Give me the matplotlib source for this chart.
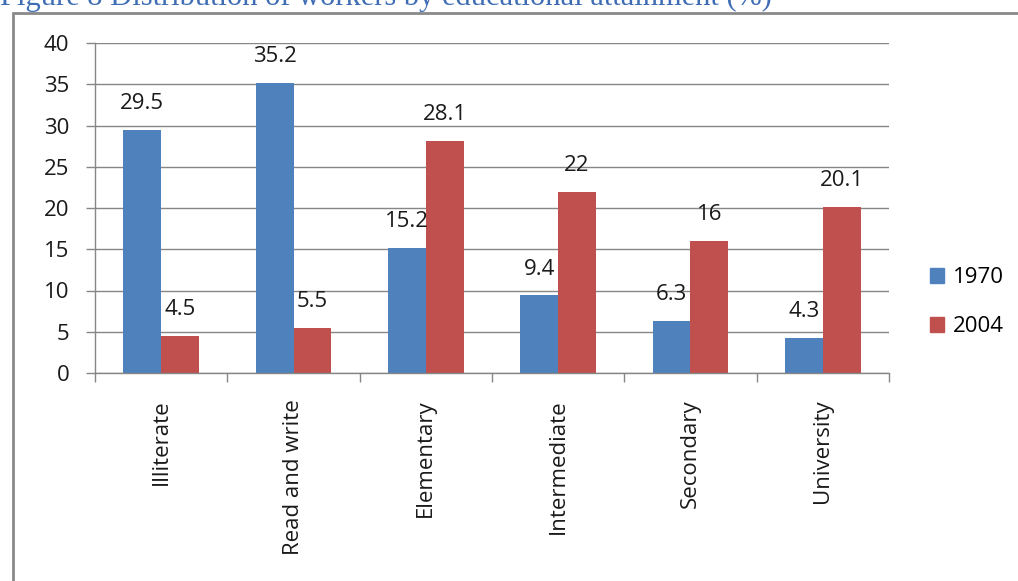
import numpy as np
import matplotlib.pyplot as plt
from matplotlib.patches import Patch, Rectangle

# Workers by educational attainment (%)
categories = ['Illiterate', 'Read and write', 'Elementary', 'Intermediate', 'Secondary', 'University']
share_1970 = [29.5, 35.2, 15.2, 9.4, 6.3, 4.3]
share_2004 = [4.5, 5.5, 28.1, 22, 16, 20.1]
years = ['1970', '2004']

blue = '#4F81BD'
red = '#C0504D'
grid_col = '#868686'
fs = 16

plt.rcParams['font.family'] = ['Open Sans', 'DejaVu Sans']

fig = plt.figure(figsize=(10.18, 5.81), dpi=100)
ax = fig.add_axes([95 / 1018, 1 - 373 / 581, (889 - 95) / 1018, (373 - 43) / 581])

x = np.arange(len(categories))
w = 1 / 3.5
b1 = ax.bar(x - w / 2, share_1970, w, color=blue)
b2 = ax.bar(x + w / 2, share_2004, w, color=red)

# value labels above each bar
for bars, vals in [(b1, share_1970), (b2, share_2004)]:
    for rect, v in zip(bars, vals):
        ax.annotate(f'{v:g}', (rect.get_x() + rect.get_width() / 2, v),
                    xytext=(0, 19), textcoords='offset points',
                    ha='center', va='center', fontsize=fs, color='#1a1a1a')

ax.set_xlim(-0.5, len(categories) - 0.5)
ax.set_ylim(0, 40)
ax.set_yticks(np.arange(0, 41, 5))
ax.yaxis.grid(True, color=grid_col, linewidth=1)
ax.set_axisbelow(True)

# boundary ticks between groups, labels centred on groups
ax.set_xticks(np.arange(-0.5, len(categories)), labels=[])
ax.set_xticks(x, labels=categories, minor=True)
ax.tick_params(axis='x', which='major', direction='out', length=6.5, width=1, color=grid_col)
ax.tick_params(axis='x', which='minor', length=0, pad=19, labelrotation=90, labelsize=fs, labelcolor='#1a1a1a')
ax.tick_params(axis='y', direction='out', length=6.5, width=1, color=grid_col,
               pad=12, labelsize=fs, labelcolor='#1a1a1a')

for s in ['top', 'right']:
    ax.spines[s].set_visible(False)
for s in ['left', 'bottom']:
    ax.spines[s].set_color(grid_col)
    ax.spines[s].set_linewidth(1)

handles = [Patch(color=blue), Patch(color=red)]
fig.legend(handles, years, loc='center left', bbox_to_anchor=(930 / 1018, 1 - 302 / 581),
           frameon=False, fontsize=fs, handlelength=0.65, handleheight=0.65,
           handletextpad=0.4, labelspacing=1.25, borderpad=0, borderaxespad=0)

# outer chart frame
fig.add_artist(Rectangle((13 / 1018, -0.1), 1.2, 1 - 13 / 581 + 0.1, transform=fig.transFigure,
                         fill=False, edgecolor='#8a8a8a', linewidth=2))

fig.text(0.0, 1 - 5 / 581, 'Figure 8 Distribution of workers by educational attainment (%)',
         family=['Liberation Serif', 'DejaVu Serif'], fontsize=22, color='#3E6DB5',
         ha='left', va='baseline')

fig.savefig('out.png', dpi=100)
